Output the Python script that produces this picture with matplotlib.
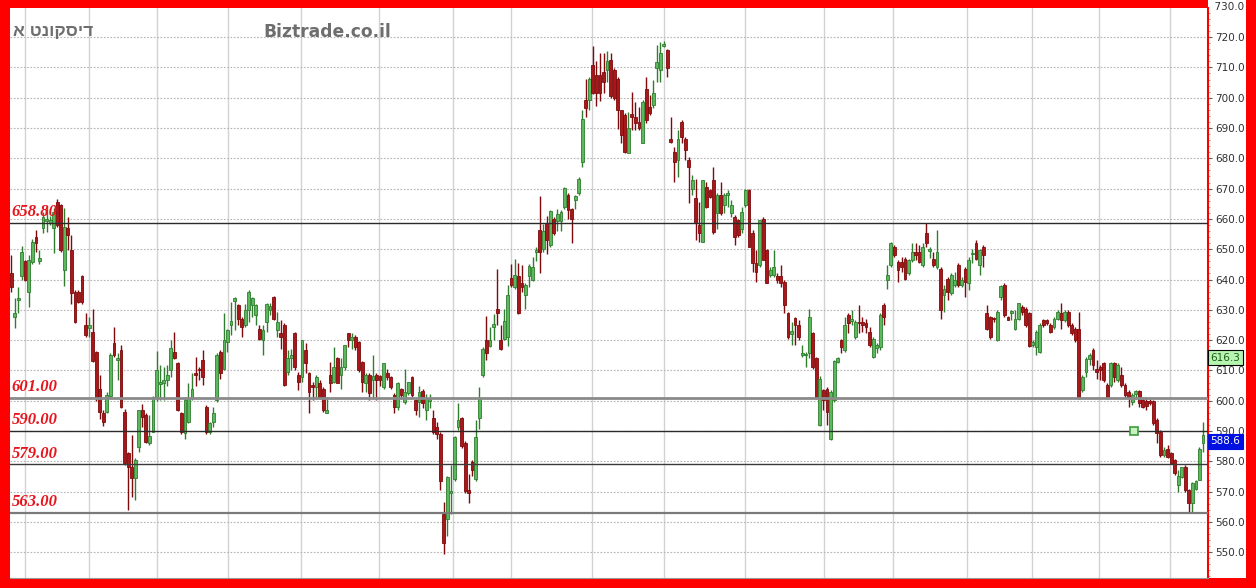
import matplotlib
matplotlib.use("Agg")
import matplotlib.pyplot as plt
import matplotlib.transforms as mtransforms
from matplotlib.patches import Rectangle
from matplotlib.ticker import MultipleLocator, FormatStrFormatter

# Daily candles, oldest first
opens = [
    642, 627.7, 633.3, 641, 646, 636, 645.8, 654, 646.2, 657,
    659.2, 658.5, 657, 665.6, 664.5, 643, 657, 649.7, 636, 636,
    641, 625, 624, 622.7, 616, 604, 595.8, 596.3, 601.5, 618.9,
    613.5, 616.7, 596.3, 582.6, 578.2, 574.4, 584.8, 597, 595.2, 586,
    589.7, 600.8, 605.5, 605.7, 606.8, 610, 616.2, 612.5, 595.8, 589.2,
    593, 600.8, 609.2, 610.6, 613.4, 598, 589.7, 593, 600.2, 616.2,
    610.6, 619.5, 625, 633, 631.5, 627.1, 625, 630, 631.5, 628.2,
    623.8, 620, 626, 630.1, 634.3, 623.3, 622.2, 624.9, 609.5, 614,
    622.2, 608.4, 607.9, 616.7, 609, 605.1, 604.6, 605.7, 604, 596,
    608.4, 606.2, 614, 608.4, 611.2, 622.2, 620, 621.1, 619.5, 612.8,
    605.7, 608.4, 607, 608.4, 608.1, 604.6, 609, 607.9, 601.9, 598,
    604, 599.6, 602.4, 607.9, 600.2, 599.6, 603.3, 597, 599.9, 594.2,
    591.3, 589, 562.7, 561, 569.6, 574.1, 591.3, 594.2, 586.2, 570.7,
    579.9, 574.1, 594.2, 608.5, 619.9, 618.2, 624.2, 630.2, 619.9, 620.5,
    621, 640.5, 637.6, 641.1, 638.8, 634.8, 641.1, 640, 649.1, 656.5,
    650.2, 658.8, 651.4, 660, 659.4, 659.4, 663.9, 668, 663.4, 666.2,
    668.5, 678.8, 699.4, 699.4, 710.9, 707.4, 707.4, 708.6, 709.1, 712.6,
    709.1, 706.3, 695.9, 694.2, 681.6, 694.5, 693.7, 692, 684.9, 703,
    697, 697.6, 709.7, 709.1, 717, 715.7, 686.5, 682.1, 679.4, 692,
    686.5, 679.4, 670, 666.8, 657.9, 652.5, 670.6, 669.5, 672.8, 661.8,
    667.9, 664.6, 667.9, 661.8, 660.7, 659.6, 656.8, 664.6, 669.5, 655.2,
    645.3, 644.7, 660.1, 649.7, 641.4, 641.4, 641.1, 641.1, 639.2, 629,
    622, 627.4, 624.9, 615.1, 615, 615.6, 622.2, 614, 592, 603.5,
    604, 587.5, 600.2, 612.9, 620, 616.7, 628.2, 626.4, 621.1, 626,
    626, 625.5, 622.7, 614.5, 617.3, 617.8, 631.5, 639.8, 644.7, 650.8,
    645.8, 645.8, 646.9, 642, 646.4, 649.1, 649.1, 644.7, 655.2, 649.5,
    646.9, 644.2, 643.6, 634.8, 640.3, 635.4, 638.2, 644.7, 638.2, 643.6,
    638.7, 648.3, 651.9, 644.7, 650.8, 628.8, 627.7, 627.3, 620, 634.1,
    638.1, 627.7, 628.8, 623.8, 627.1, 631, 630.4, 628.8, 618.4, 617.8,
    616.2, 626.6, 626.6, 624.9, 624.4, 627.1, 628.8, 626.6, 629.3, 624.9,
    623.8, 623.8, 603.5, 609.5, 613.9, 616.7, 610.6, 611.2, 612.3, 605.1,
    605.1, 612.3, 606.8, 608.4, 605.1, 603, 599.7, 602.2, 603.3, 600.2,
    600, 600, 600, 593.6, 589.7, 582, 584.2, 582.8, 580.4, 572.1,
    574.9, 578.2, 570.5, 566.1, 571, 574, 585.9,
]
highs = [
    648, 634, 637.5, 651, 646.5, 648, 653.5, 656.5, 649.7, 662.4,
    663.5, 661, 663.5, 666.7, 665, 663.5, 660.7, 654.6, 636.5, 636.5,
    641.5, 628.8, 627.7, 630.4, 616.3, 608.4, 597, 603, 615.6, 624.4,
    615.6, 618.4, 597.4, 583.1, 588.7, 581, 597, 599, 595.8, 595.2,
    601.5, 616.5, 611.7, 611.2, 611.7, 620, 622.8, 612.8, 596.3, 601.3,
    605.7, 609, 614.5, 611.2, 616.7, 598.6, 593, 598, 615.6, 616.7,
    628.8, 623.8, 632.7, 634.3, 632, 627.7, 632, 636.5, 634.3, 632,
    625, 625, 632.1, 632.1, 634.5, 629.3, 626.6, 625.5, 616.7, 617.2,
    622.8, 609.5, 620, 618.9, 609.5, 606.2, 608.4, 606.8, 604.6, 601.3,
    612.8, 617.8, 614.5, 614, 618.5, 622.5, 622.2, 621.6, 619.6, 613,
    609, 609, 615, 609, 608.5, 612.3, 610.6, 608, 602.4, 606.2,
    604.1, 610.6, 606.3, 608, 600.7, 605, 603.9, 602.2, 602.2, 597,
    593, 589.6, 566.7, 575.3, 578.7, 588.4, 599.3, 594.7, 586.7, 575.8,
    580.4, 593.6, 604.5, 617.6, 627.9, 624.4, 628.5, 643.4, 625, 630.2,
    638.2, 645.1, 646.8, 645.6, 644.8, 638.8, 645.1, 647.4, 650.8, 667.4,
    658.2, 661.1, 662.8, 660.5, 663.4, 662.8, 670.5, 668.5, 663.6, 668,
    673.7, 696, 706.3, 706.8, 717.1, 712, 714.9, 714.9, 715.4, 714.9,
    709.7, 706.8, 696, 694.8, 695.4, 701.9, 698.6, 697, 699.2, 706.9,
    700.9, 705.8, 717.4, 718.5, 718.8, 716.2, 693.7, 683.8, 689.3, 692.8,
    687.1, 680.5, 674.5, 673.3, 665.6, 672.8, 672.2, 670, 677.2, 668.4,
    672.2, 668.6, 669.5, 666.2, 661.2, 660.1, 664, 670, 670, 656.3,
    649.7, 659.6, 660.7, 650.2, 644.2, 649.7, 642, 644.7, 639.8, 629.4,
    626, 627.7, 626.6, 618.4, 616, 630.4, 622.8, 614.5, 608, 604,
    604.6, 603.5, 613.4, 614.5, 620.5, 627.7, 628.8, 629.9, 626.6, 631.5,
    627.7, 627.1, 624.4, 621.1, 618.9, 628.8, 632.1, 644.7, 652.5, 651.4,
    646.4, 647.5, 647.5, 646.9, 651.9, 651.9, 651.4, 651.9, 658.5, 650.8,
    649.1, 656.3, 644.2, 638.1, 640.9, 642, 642.5, 645.3, 640.9, 644.2,
    647.5, 650.2, 653, 650.2, 651.4, 631.5, 628, 627.7, 629.9, 638.1,
    638.7, 628, 630, 629.9, 632.3, 631.5, 631, 629.3, 620, 623.3,
    625.5, 627.1, 627.1, 625.5, 627.7, 629.9, 632.1, 629.9, 629.9, 625.5,
    624.4, 629.3, 608.4, 614.5, 615.6, 617.3, 613.4, 611.7, 612.8, 605.7,
    612.8, 612.8, 612.3, 611.2, 605.7, 603.5, 602.4, 603.7, 603.7, 601.3,
    601.3, 600.5, 600.2, 594.2, 590.3, 584.8, 585.4, 583.1, 580.9, 577.1,
    578.2, 578.8, 571, 573.2, 573.8, 584.8, 593,
]
lows = [
    636, 624, 629, 640, 639.5, 631, 645, 649, 645, 655.2,
    655.7, 658, 648.6, 657.4, 649, 638, 649.7, 632, 625.5, 632.3,
    632, 621, 621, 612.9, 600, 594, 591.6, 595.8, 601.3, 614.5,
    606.8, 597.5, 578.7, 564, 568.3, 567.2, 583, 591.4, 585.9, 585.3,
    589.7, 600, 600.2, 600.2, 605, 607.9, 613.9, 596.5, 589, 587.5,
    592.5, 600.2, 605, 606.8, 605.1, 589, 589, 591.4, 599.6, 607.3,
    610, 616.2, 621.6, 623.3, 625, 621, 624.4, 626, 627.7, 625,
    620, 615, 622.8, 628.2, 626.6, 621, 617.2, 605, 608.4, 610,
    610, 603.5, 606.2, 609, 595.8, 600.2, 600.7, 600.7, 596.3, 595.8,
    603, 605.7, 605.7, 604, 610, 617.8, 617.2, 616.7, 609.5, 603,
    603, 600.2, 600.7, 600.2, 605, 604, 606.8, 604, 595.8, 596.9,
    600.7, 599, 601.9, 601.3, 595.2, 594.7, 597.6, 593.6, 597.6, 589,
    587.3, 570.7, 549.5, 555.3, 562.7, 573.6, 590.2, 584.4, 569.6, 566.1,
    575.3, 573.6, 590.7, 607.9, 613.6, 617.6, 619.9, 625, 616.9, 619.9,
    618.2, 637.6, 637, 628.5, 635.9, 630.2, 637.6, 639.5, 646.2, 642.2,
    649.1, 648.5, 650.8, 654.8, 656, 656, 663.4, 659.9, 651.9, 663.4,
    668, 677.1, 693.7, 696, 701.1, 697.1, 698.8, 701.7, 705.1, 700,
    699.4, 689.7, 684.9, 681.6, 681.6, 689.3, 689.3, 689.3, 684.9, 691.5,
    694.2, 696.5, 705.3, 705.3, 716.8, 706.9, 684.9, 672.2, 673.9, 684.9,
    679.4, 665.1, 667.9, 653, 652.5, 652.5, 663.5, 666.8, 655, 656.8,
    661.2, 661.8, 664, 660.7, 651.4, 654.1, 655.2, 664, 650.8, 642.5,
    639.2, 644.2, 646.4, 638.7, 640.9, 640.9, 638.7, 637.6, 628.8, 620.5,
    618.4, 618.4, 620, 614.5, 611.2, 614, 610.6, 600.7, 591.5, 596.9,
    592, 587, 599.6, 612.3, 615.6, 616.2, 622.2, 625, 620.5, 622.2,
    622.7, 622.2, 617.8, 614, 615.6, 616.7, 625, 637, 644.2, 647.5,
    639.2, 642.5, 639.8, 641.4, 645.8, 646.4, 645.3, 644.2, 650.8, 647,
    644.2, 643.6, 627.1, 629.3, 633.2, 634.8, 637.6, 637.6, 637.6, 634.3,
    636.5, 645.3, 646.4, 641.4, 644.2, 623.3, 620.5, 626, 619.8, 633.2,
    627.7, 626.6, 626.6, 623.3, 626.6, 628.2, 624.4, 617.8, 617.8, 615,
    615.8, 624.4, 624.9, 622.2, 623.8, 626.6, 623.8, 626, 624.4, 621.6,
    619.5, 600.7, 603, 607.9, 611.7, 610, 607.3, 606.8, 606.2, 600.7,
    604.6, 606.2, 606.2, 604.6, 601.3, 598, 598.6, 600.7, 598, 597.5,
    596.9, 598.6, 592, 585.9, 581.5, 581.5, 581, 579.1, 575.4, 569.9,
    574.4, 570, 563.4, 562.8, 570.5, 573.8, 583.1,
]
closes = [
    637.5, 628.8, 633.8, 649, 640, 646.4, 652.5, 652, 647.2, 660.7,
    660, 659.8, 662.4, 658, 649.7, 657.4, 654.6, 635.4, 626, 632.7,
    632.7, 621.6, 625, 613, 601.3, 596.3, 593, 601.8, 615, 615,
    614, 598, 579.3, 578.2, 574.4, 580.6, 596.9, 594.7, 586.5, 588.3,
    601.3, 610, 606.2, 607, 608.4, 617.3, 614, 596.9, 589.7, 600.2,
    600.8, 604, 608.4, 610, 607.9, 589.7, 592.5, 595.8, 615, 609,
    620, 623.3, 626.4, 633.8, 627.1, 624.4, 630, 636, 634, 631.5,
    620.5, 623.3, 632, 631.2, 627.1, 626, 621.1, 605.2, 614, 615,
    611.2, 606.2, 620, 612.3, 603, 604.6, 607.9, 601.3, 596.9, 597.1,
    605.7, 611.2, 605.7, 611.2, 618.4, 620, 621.1, 617.8, 610, 606.2,
    608.4, 602.4, 608.1, 606.8, 606.8, 612.3, 607.9, 604.6, 598, 605.7,
    601.9, 602.9, 606.2, 601.9, 596.9, 602.9, 599.3, 600.5, 600.7, 589.6,
    589, 573.6, 553, 574.7, 570.1, 587.9, 593.6, 585, 570.1, 569.6,
    577, 587.9, 600.7, 617, 615.9, 619.9, 625.3, 629, 617, 626.2,
    634.8, 638.2, 641.6, 629, 637.6, 638.2, 644.5, 644, 649.9, 649.1,
    655.9, 653.1, 662.5, 655.4, 661.7, 662.2, 670.2, 662.8, 660, 667.4,
    673.3, 693.1, 696.6, 706.3, 701.7, 701.7, 701.7, 705.1, 712, 700.6,
    700, 696, 687.7, 682.1, 689.9, 693.5, 691.5, 689.9, 698.7, 692.6,
    694.8, 701.4, 711.9, 714.6, 717.7, 709.7, 685.4, 678.8, 686.5, 687.1,
    682.7, 677.2, 672.8, 658.5, 655.2, 672.8, 664, 667.3, 655.7, 667.9,
    661.8, 667.9, 668.4, 664.6, 654.1, 654.6, 662.4, 669.5, 650.8, 645.3,
    642.5, 659.6, 646.4, 638.7, 643.1, 644.2, 640, 638.7, 631.5, 621.1,
    623.1, 624.9, 621.1, 615.6, 615.4, 627.7, 611.2, 601.3, 607.3, 600.2,
    596.3, 602.9, 613.2, 614, 617.8, 625, 625.5, 626.8, 626, 625.5,
    624.9, 624.4, 618.4, 620.5, 618.4, 628.2, 627.7, 641.4, 651.9, 648,
    643.1, 644.2, 640.3, 646.4, 649.1, 648, 645.8, 650.8, 651.9, 649.9,
    644.7, 649.1, 629.9, 637, 636, 641.4, 639.8, 638.2, 639.8, 639.2,
    646.4, 648.8, 646.9, 649.7, 648, 623.8, 621.1, 626.9, 629.3, 637.8,
    628.2, 626.8, 629.7, 627.1, 632.1, 629.3, 624.9, 618, 619.5, 622.7,
    624.9, 624.9, 625.5, 622.7, 627.1, 629.3, 626.6, 629.3, 624.9, 622.2,
    620, 601.3, 607.9, 613.9, 615, 611.7, 609.5, 610.1, 606.8, 601.3,
    612.3, 607.9, 611.7, 605.1, 601.9, 600.8, 601.9, 603.3, 599.1, 598,
    598.2, 599.3, 592.5, 589.2, 582, 583.7, 581.5, 579.5, 576, 575.1,
    578, 570.5, 566.1, 572.7, 573.6, 584.2, 588.6,
]
assert len(opens) == len(highs) == len(lows) == len(closes)

# month separators (candle index) and support / resistance levels
month_marks = [4.0, 22.0, 41.1, 61.2, 81.7, 103.7, 124.6, 140.9, 163.8,
               184.0, 206.9, 229.1, 248.6, 269.4, 287.8, 306.6, 326.7]
levels = [658.8, 601.0, 590.0, 579.0, 563.0]
level_colors = ["#2a2a2a", "#8a8a8a", "#2a2a2a", "#3a3a3a", "#7a7a7a"]
level_widths = [1.0, 2.0, 1.0, 1.0, 1.6]
last_ma = 616.3
last_price = 588.6
alert_idx, alert_price = 316.5, 590.0

stock_name = "דיסקונט א"
site_name = "Biztrade.co.il"

fig = plt.figure(figsize=(12.56, 5.88), dpi=100, facecolor="#ff0000")
# white strip behind the price scale (kept under the axes)
fig.patches.append(Rectangle((1208 / 1256, 10 / 588), 38 / 1256, 578 / 588,
                             transform=fig.transFigure, facecolor="white",
                             edgecolor="none", zorder=-5))
ax = fig.add_axes([9.5 / 1256, 10 / 588, 1198.5 / 1256, 570 / 588])
ax.set_zorder(2)
ax.set_facecolor("white")

n = len(closes)
xs = list(range(n))
ax.set_xlim(-0.45, n - 1 + 1.4)
ax.set_ylim(541.5, 729.6)

# grid
ax.yaxis.set_major_locator(MultipleLocator(10))
ax.yaxis.set_minor_locator(MultipleLocator(2))
ax.yaxis.set_major_formatter(FormatStrFormatter("%.1f"))
ax.grid(axis="y", color="#b5b5b5", linestyle=(0, (1.5, 1.5)), linewidth=0.8, zorder=0)
for m in month_marks:
    ax.axvline(m, color="#d2d2d2", linewidth=1.0, zorder=0)

# candles
up_face, up_edge = "#5cb85c", "#2f7d2f"
dn_face, dn_edge = "#a8181b", "#7e0a0c"
for i in xs:
    o, h, l, c = opens[i], highs[i], lows[i], closes[i]
    up = c >= o
    edge = up_edge if up else dn_edge
    face = up_face if up else dn_face
    ax.vlines(i, l, h, color=edge, linewidth=1.0, zorder=2)
    ax.bar(i, max(abs(c - o), 0.5), bottom=min(o, c), width=0.8,
           color=face, edgecolor=edge, linewidth=0.6, zorder=3)

# horizontal levels + labels
trans = mtransforms.blended_transform_factory(ax.transAxes, ax.transData)
for lv, col, lw in zip(levels, level_colors, level_widths):
    ax.axhline(lv, color=col, linewidth=lw, zorder=4)
    ax.text(0.002, lv + 0.9, f"{lv:.2f}", transform=trans, ha="left", va="bottom",
            color="#e8141c", fontsize=12, fontweight="bold", fontstyle="italic",
            family=["Liberation Serif", "DejaVu Serif"], zorder=6)

# alert marker on the 590 line
ax.plot([alert_idx], [alert_price], marker="s", markersize=6, markerfacecolor="#c8f0c0",
        markeredgecolor="#3f9a3f", markeredgewidth=1.2, linestyle="none", zorder=5)

# headers
ax.text(0.003, 0.958, stock_name[::-1], transform=ax.transAxes, ha="left", va="center",
        color="#6e6e6e", fontsize=12.5, fontweight="bold",
        family=["Liberation Sans", "DejaVu Sans"])
ax.text(0.212, 0.958, site_name, transform=ax.transAxes, ha="left", va="center",
        color="#6e6e6e", fontsize=12.3, fontweight="bold", family=["DejaVu Sans"])

# price scale on the right
ax.yaxis.tick_right()
ax.tick_params(axis="y", which="major", labelsize=7.5, labelcolor="#303030",
               color="#606060", length=3, pad=2)
ax.tick_params(axis="y", which="minor", color="#909090", length=1.5)
ax.tick_params(axis="x", bottom=False, labelbottom=False)
for s in ["top", "left"]:
    ax.spines[s].set_visible(False)
ax.spines["bottom"].set_color("#9a9a9a")
ax.spines["right"].set_color("#ff0000")
ax.spines["right"].set_linewidth(1.5)
ax.text(1.0, 730, "  730.0", transform=trans, ha="left", va="center",
        fontsize=7.5, color="#303030", clip_on=False)

# last-value boxes
ax.text(1.002, last_ma - 0.4, f"{last_ma:.1f}", transform=trans, ha="left", va="top",
        fontsize=7.5, color="#1e5a1e", zorder=7, clip_on=False,
        bbox=dict(boxstyle="square,pad=0.25", facecolor="#b6f5b0", edgecolor="black",
                  linewidth=0.8))
ax.text(1.002, last_price - 0.4, f"{last_price:.1f}", transform=trans, ha="left", va="top",
        fontsize=7.5, color="white", zorder=7, clip_on=False,
        bbox=dict(boxstyle="square,pad=0.25", facecolor="#0010e0", edgecolor="#0010e0",
                  linewidth=0.8))

fig.savefig("out.png", dpi=100, facecolor=fig.get_facecolor())
